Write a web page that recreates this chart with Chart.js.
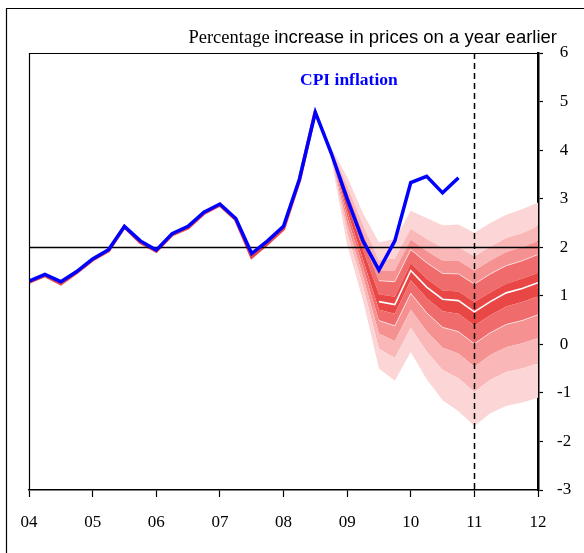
<!DOCTYPE html>
<html>
<head>
<meta charset="utf-8">
<script src="https://cdn.jsdelivr.net/npm/chart.js@4.4.1/dist/chart.umd.min.js"></script>
<style>
  html, body { margin: 0; padding: 0; background: #fff; }
  #wrap { width: 584px; height: 553px; }
</style>
</head>
<body>
<div id="wrap"><canvas id="chart" width="584" height="553"></canvas></div>
<script>
// quarters from 2004 Q1 to 2012 Q1
const quarters = [
  '2004Q1','2004Q2','2004Q3','2004Q4','2005Q1','2005Q2','2005Q3','2005Q4',
  '2006Q1','2006Q2','2006Q3','2006Q4','2007Q1','2007Q2','2007Q3','2007Q4',
  '2008Q1','2008Q2','2008Q3','2008Q4','2009Q1','2009Q2','2009Q3','2009Q4',
  '2010Q1','2010Q2','2010Q3','2010Q4','2011Q1','2011Q2','2011Q3','2011Q4',
  '2012Q1'
];
const yearLabels = ['04','05','06','07','08','09','10','11','12'];
const yTicks = [-3, -2, -1, 0, 1, 2, 3, 4, 5, 6];

// CPI outturns, 2004 Q1 - 2010 Q4
const cpi = [1.30, 1.44, 1.29, 1.50, 1.76, 1.95, 2.43, 2.13, 1.94, 2.28, 2.43, 2.72,
             2.89, 2.59, 1.87, 2.13, 2.43, 3.40, 4.78, 3.94, 3.00, 2.13, 1.53, 2.13,
             3.33, 3.46, 3.12, 3.43];
// fan history line, 2004 Q1 - 2008 Q3
const history = [1.28, 1.42, 1.25, 1.48, 1.74, 1.93, 2.42, 2.10, 1.92, 2.26, 2.40, 2.70,
                 2.87, 2.57, 1.80, 2.08, 2.38, 3.38, 4.80];

// fan, 2008 Q3 - 2012 Q1 (central projection and band edges)
const fanStart = 18;
const central = [4.80, 3.95, 2.85, 1.85, 0.88, 0.82, 1.52, 1.18, 0.93, 0.90, 0.67, 0.88, 1.06, 1.15, 1.27];
const upper1  = [4.80, 3.96, 2.92, 1.95, 1.03, 0.98, 1.67, 1.35, 1.11, 1.09, 0.87, 1.07, 1.25, 1.35, 1.47];
const upper2  = [4.80, 3.99, 3.06, 2.15, 1.31, 1.29, 1.95, 1.68, 1.46, 1.45, 1.24, 1.45, 1.62, 1.72, 1.85];
const upper3  = [4.80, 4.00, 3.16, 2.29, 1.51, 1.52, 2.16, 1.92, 1.72, 1.72, 1.52, 1.72, 1.90, 2.00, 2.13];
const upper4  = [4.80, 4.02, 3.27, 2.45, 1.73, 1.77, 2.38, 2.17, 1.99, 2.00, 1.81, 2.01, 2.19, 2.29, 2.43];
const upper5  = [4.80, 4.05, 3.45, 2.70, 2.10, 2.17, 2.75, 2.60, 2.45, 2.47, 2.30, 2.50, 2.67, 2.78, 2.92];
const lower1  = [4.80, 3.93, 2.75, 1.74, 0.71, 0.63, 1.32, 0.95, 0.68, 0.63, 0.39, 0.60, 0.78, 0.87, 0.99];
const lower2  = [4.80, 3.91, 2.63, 1.58, 0.49, 0.38, 1.05, 0.65, 0.35, 0.26, 0.01, 0.24, 0.41, 0.49, 0.61];
const lower3  = [4.80, 3.88, 2.47, 1.39, 0.22, 0.07, 0.71, 0.27, -0.07, -0.19, -0.46, -0.22, -0.06, 0.02, 0.13];
const lower4  = [4.80, 3.85, 2.29, 1.19, -0.09, -0.28, 0.34, -0.15, -0.53, -0.70, -0.98, -0.73, -0.57, -0.50, -0.39];
const lower5  = [4.80, 3.80, 2.05, 0.90, -0.50, -0.75, -0.16, -0.72, -1.15, -1.38, -1.68, -1.42, -1.27, -1.20, -1.10];

const bandColors = ['rgb(233,70,70)', 'rgb(240,108,108)', 'rgb(245,145,145)', 'rgb(249,183,183)', 'rgb(252,214,214)'];

function qx(q) {
  return parseInt(q.slice(0, 4)) + (parseInt(q.slice(5)) - 1) / 4;
}
function pts(values, start) {
  return values.map((v, i) => ({ x: qx(quarters[start + i]), y: v }));
}

function fanLine(values, color, fill) {
  return {
    data: pts(values, fanStart), borderWidth: 0, borderColor: 'rgba(0,0,0,0)',
    backgroundColor: color, fill: fill, pointRadius: 0, order: 3
  };
}

const whiteFrom = 4; // white lines visible from 2009 Q3
const datasets = [
  { label: 'cpi', data: pts(cpi, 0), borderColor: '#0000ff', borderWidth: 3.5, pointRadius: 0, fill: false, order: 0 },
  { label: 'history', data: pts(history, 0), borderColor: 'rgb(235,70,70)', borderWidth: 3.5, pointRadius: 0, fill: false, order: 1 },
  { label: 'central', data: pts(central.slice(whiteFrom), fanStart + whiteFrom), borderColor: '#ffffff', borderWidth: 1.6, pointRadius: 0, fill: false, order: 2 },
  { label: 'u2', data: pts(upper2.slice(whiteFrom), fanStart + whiteFrom), borderColor: 'rgba(255,255,255,0.8)', borderWidth: 0.8, pointRadius: 0, fill: false, order: 2 },
  { label: 'l2', data: pts(lower2.slice(whiteFrom), fanStart + whiteFrom), borderColor: 'rgba(255,255,255,0.8)', borderWidth: 0.8, pointRadius: 0, fill: false, order: 2 },
  fanLine(lower5, 'rgba(0,0,0,0)', false),
  fanLine(lower4, bandColors[4], '-1'),
  fanLine(lower3, bandColors[3], '-1'),
  fanLine(lower2, bandColors[2], '-1'),
  fanLine(lower1, bandColors[1], '-1'),
  fanLine(upper1, bandColors[0], '-1'),
  fanLine(upper2, bandColors[1], '-1'),
  fanLine(upper3, bandColors[2], '-1'),
  fanLine(upper4, bandColors[3], '-1'),
  fanLine(upper5, bandColors[4], '-1')
];

const decorations = {
  id: 'decorations',
  afterDatasetDraw(chart, args) {
    if (args.index !== 1) return;
    const ctx = chart.ctx;
    const a = chart.chartArea;
    const x = chart.scales.x, y = chart.scales.y;
    ctx.save();
    // 2 per cent target line
    ctx.strokeStyle = '#000';
    ctx.lineWidth = 1.3;
    ctx.beginPath();
    ctx.moveTo(a.left, Math.round(y.getPixelForValue(2)) + 0.5);
    ctx.lineTo(a.right, Math.round(y.getPixelForValue(2)) + 0.5);
    ctx.stroke();
    // forecast start
    ctx.setLineDash([6, 4]);
    ctx.lineWidth = 1.5;
    const dx = Math.round(x.getPixelForValue(2011)) + 0.5;
    ctx.beginPath();
    ctx.moveTo(dx, a.top);
    ctx.lineTo(dx, a.bottom);
    ctx.stroke();
    ctx.restore();
  },
  afterDraw(chart) {
    const ctx = chart.ctx;
    const a = chart.chartArea;
    ctx.save();
    ctx.strokeStyle = '#000';
    ctx.lineWidth = 1.2;
    ctx.beginPath();
    ctx.moveTo(a.left + 0.5, a.bottom);
    ctx.lineTo(a.left + 0.5, a.top + 0.5);
    ctx.lineTo(a.right, a.top + 0.5);
    ctx.stroke();
    // outer frame
    ctx.beginPath();
    ctx.moveTo(6.5, 553);
    ctx.lineTo(6.5, 8.5);
    ctx.lineTo(584, 8.5);
    ctx.stroke();
    // title
    const part1 = 'Percentage ';
    const part2 = 'increase in prices on a year earlier';
    ctx.fillStyle = '#000';
    ctx.textBaseline = 'alphabetic';
    ctx.font = '18.5px "Liberation Serif"';
    const w1 = ctx.measureText(part1).width;
    ctx.font = '18.5px "Liberation Sans"';
    const w2 = ctx.measureText(part2).width;
    const right = 557;
    ctx.textAlign = 'left';
    ctx.font = '18.5px "Liberation Serif"';
    ctx.fillText(part1, right - w2 - w1, 43);
    ctx.font = '18.5px "Liberation Sans"';
    ctx.fillText(part2, right - w2, 43);
    // series label
    ctx.fillStyle = '#0000ff';
    ctx.font = 'bold 17.5px "Liberation Serif"';
    ctx.textBaseline = 'middle';
    ctx.fillText('CPI inflation', 300, 80);
    ctx.restore();
  }
};

new Chart(document.getElementById('chart'), {
  type: 'line',
  data: { datasets: datasets },
  options: {
    responsive: false,
    animation: false,
    layout: { padding: { left: 29, top: 53, right: 0, bottom: 0 } },
    plugins: { legend: { display: false }, tooltip: { enabled: false } },
    elements: { line: { tension: 0 } },
    scales: {
      x: {
        type: 'linear', min: 2004, max: 2012, position: 'bottom',
        grid: { drawOnChartArea: false, drawTicks: true, tickLength: 7, tickColor: '#000', tickWidth: 1.2 },
        border: { color: '#000', width: 1.5 },
        ticks: {
          stepSize: 1, color: '#000', padding: 15, maxRotation: 0,
          font: { family: 'Liberation Serif', size: 17 },
          callback: v => yearLabels[Math.round(v - 2004)]
        },
        afterFit: s => { s.height = 63; }
      },
      y: {
        type: 'linear', min: -3, max: 6, position: 'right',
        grid: { drawOnChartArea: false, drawTicks: true, tickLength: 5, tickColor: '#000', tickWidth: 1.2 },
        border: { color: '#000', width: 2.5 },
        afterBuildTicks: s => { s.ticks = yTicks.map(v => ({ value: v })); },
        ticks: {
          color: '#000', padding: 14, crossAlign: 'center',
          font: { family: 'Liberation Serif', size: 17 }
        },
        afterFit: s => { s.width = 46; }
      }
    }
  },
  plugins: [decorations]
});
</script>
</body>
</html>
